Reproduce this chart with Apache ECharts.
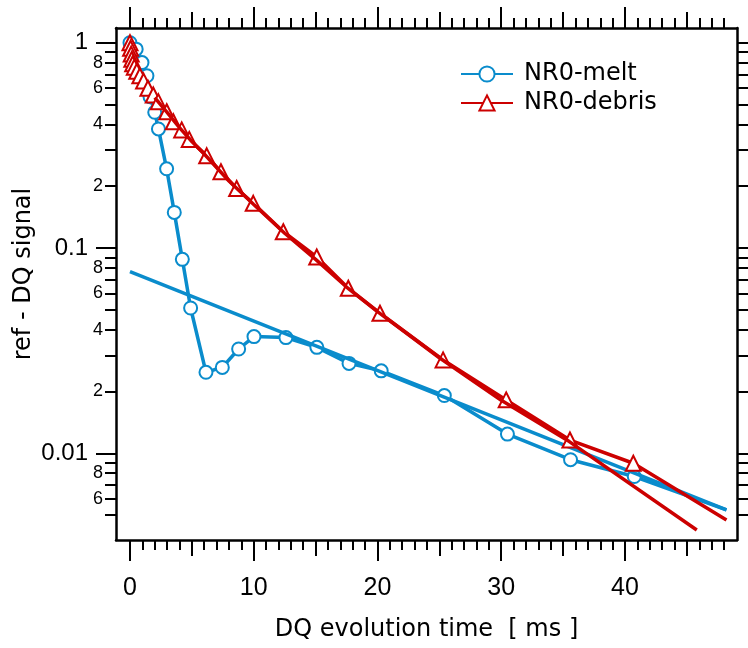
<!DOCTYPE html>
<html>
<head>
<meta charset="utf-8">
<script src="https://cdn.jsdelivr.net/npm/echarts@6/dist/echarts.min.js"></script>
<style>
  html, body { margin: 0; padding: 0; background: #fff; }
  #chart { width: 748px; height: 648px; }
</style>
</head>
<body>
<div id="chart"></div>
<script>
// melt data, [time ms, ref - DQ]
let meltData = [
  [0, 1.0], [0.5, 0.93], [0.97, 0.8], [1.37, 0.69], [1.62, 0.545],
  [2.0, 0.458], [2.3, 0.38], [2.96, 0.243], [3.58, 0.149], [4.23, 0.088],
  [4.9, 0.051], [6.14, 0.0248], [7.46, 0.0262], [8.78, 0.0322], [10.02, 0.037],
  [12.6, 0.0366], [15.1, 0.0328], [17.7, 0.0274], [20.3, 0.0252], [25.4, 0.0191],
  [30.5, 0.0124], [35.6, 0.0093], [40.75, 0.0077], [48.2, 0.0053],
];
// debris data
let debrisData = [
  [0, 1.0], [0.05, 0.94], [0.1, 0.88], [0.15, 0.83], [0.22, 0.79],
  [0.35, 0.76], [0.55, 0.725], [0.8, 0.69], [1.1, 0.65], [1.45, 0.6],
  [1.88, 0.556], [2.29, 0.516], [2.97, 0.461], [3.5, 0.412], [4.18, 0.376],
  [4.79, 0.338], [6.2, 0.281], [7.35, 0.235], [8.62, 0.195], [9.96, 0.165],
  [12.39, 0.12], [15.09, 0.0904], [17.64, 0.0636], [20.2, 0.0481], [25.3, 0.0285],
  [30.4, 0.0182], [35.55, 0.0116], [40.67, 0.00894], [48.2, 0.00473],
];
// fitted lines
let meltFit = [[0, 0.0767], [48.2, 0.0053]];
let debrisFit = [
  [2, 0.54], [3, 0.458], [4, 0.386], [5, 0.33], [6, 0.287], [8, 0.212],
  [10, 0.163], [12.5, 0.118], [15, 0.088], [17.5, 0.0645], [20, 0.049],
  [25, 0.0292], [30, 0.0181], [35.5, 0.0114], [45.8, 0.00423],
];

// tick values
let xMajor = [0, 10, 20, 30, 40];
let xMid = [5, 15, 25, 35, 45];
let xMinor = [1, 2, 3, 4, 6, 7, 8, 9, 11, 12, 13, 14, 16, 17, 18, 19, 21, 22, 23, 24,
  26, 27, 28, 29, 31, 32, 33, 34, 36, 37, 38, 39, 41, 42, 43, 44, 46, 47, 48];
let yMajor = [0.01, 0.1, 1];
let yMinor = [0.005, 0.006, 0.007, 0.008, 0.009, 0.02, 0.03, 0.04, 0.05, 0.06, 0.07, 0.08, 0.09,
  0.2, 0.3, 0.4, 0.5, 0.6, 0.7, 0.8, 0.9];
let yMinorLabels = [0.006, 0.008, 0.02, 0.04, 0.06, 0.08, 0.2, 0.4, 0.6, 0.8];

const FONT = "Liberation Sans";
const NAME_FONT = "DejaVu Sans";
const BLUE = "#0a8ccc";
const RED = "#cc0000";
const X_MIN = -1.13, X_MAX = 49.05;
const Y_MIN = 0.00378, Y_MAX = 1.179;

// last point of each data set has no marker
function lastNoSymbol(arr) {
  return arr.map((p, i) => (i === arr.length - 1 ? { value: p, symbol: "none" } : p));
}

function xAxisOf(pos, ticks, len, extra) {
  return Object.assign({
    type: "value",
    position: pos,
    min: X_MIN,
    max: X_MAX,
    splitLine: { show: false },
    axisLine: { show: false, onZero: false },
    axisTick: { show: true, customValues: ticks, length: len, lineStyle: { color: "#000", width: 2 } },
    axisLabel: { show: false },
  }, extra || {});
}

function yAxisOf(pos, ticks, len, extra) {
  return Object.assign({
    type: "log",
    position: pos,
    min: Y_MIN,
    max: Y_MAX,
    splitLine: { show: false },
    minorTick: { show: false },
    axisLine: { show: false, onZero: false },
    axisTick: { show: true, customValues: ticks, length: len, lineStyle: { color: "#000", width: 2 } },
    axisLabel: { show: false },
  }, extra || {});
}

let chart = echarts.init(document.getElementById("chart"), null, { renderer: "canvas" });

let option = {
  animation: false,
  backgroundColor: "#fff",
  textStyle: { fontFamily: FONT },
  grid: { left: 116, right: 11, top: 28, bottom: 108, containLabel: false, outerBoundsMode: "none" },
  legend: {
    data: ["NR0-melt", "NR0-debris"],
    orient: "vertical",
    left: 455,
    top: 57,
    itemWidth: 52,
    itemHeight: 19,
    itemGap: 5,
    textStyle: { fontSize: 24, color: "#000", fontFamily: NAME_FONT, lineHeight: 24, padding: [0, 0, 0, 6] },
  },
  xAxis: [
    xAxisOf("bottom", xMajor, 21, {
      axisLine: { show: true, onZero: false, lineStyle: { color: "#000", width: 2.5 } },
      axisLabel: {
        show: true, customValues: xMajor, margin: 36, fontSize: 25, color: "#000", fontFamily: FONT,
      },
      name: "DQ evolution time  [ ms ]",
      nameLocation: "middle",
      nameGap: 78,
      nameMoveOverlap: false,
      nameTextStyle: { fontSize: 24, color: "#000", fontFamily: NAME_FONT },
    }),
    xAxisOf("bottom", xMid, 16),
    xAxisOf("bottom", xMinor, 10),
    xAxisOf("top", xMajor, 21, {
      axisLine: { show: true, onZero: false, lineStyle: { color: "#000", width: 2.5 } },
    }),
    xAxisOf("top", xMid, 16),
    xAxisOf("top", xMinor, 10),
  ],
  yAxis: [
    yAxisOf("left", yMajor, 20, {
      axisLine: { show: true, onZero: false, lineStyle: { color: "#000", width: 2.5 } },
      axisLabel: {
        show: true, customValues: yMajor, margin: 28, fontSize: 24, color: "#000", fontFamily: FONT,
        formatter: (v) => String(+Number(v).toPrecision(3)),
      },
      name: "ref - DQ signal",
      nameLocation: "middle",
      nameRotate: 90,
      nameGap: 80,
      nameMoveOverlap: false,
      nameTextStyle: { fontSize: 24, color: "#000", fontFamily: NAME_FONT, padding: [0, 0, 0, 20] },
    }),
    yAxisOf("left", yMinor, 11, {
      axisLabel: {
        show: true, customValues: yMinorLabels, margin: 13, fontSize: 18, color: "#000", fontFamily: FONT,
        formatter: (v) => String(Math.round(v / Math.pow(10, Math.floor(Math.log10(v) + 1e-9)))),
      },
    }),
    yAxisOf("right", yMajor, 20, {
      axisLine: { show: true, onZero: false, lineStyle: { color: "#000", width: 2.5 } },
    }),
    yAxisOf("right", yMinor, 11),
  ],
  series: [
    {
      name: "NR0-melt",
      type: "line",
      data: lastNoSymbol(meltData),
      symbol: "emptyCircle",
      symbolSize: 13,
      color: BLUE,
      itemStyle: { color: BLUE, borderWidth: 3 },
      lineStyle: { color: BLUE, width: 3.5 },
      z: 2,
    },
    {
      name: "melt-fit",
      type: "line",
      data: meltFit,
      symbol: "none",
      lineStyle: { color: BLUE, width: 3.5 },
      z: 3,
    },
    {
      name: "NR0-debris",
      type: "line",
      data: lastNoSymbol(debrisData),
      symbol: "emptyTriangle",
      symbolSize: 15,
      color: RED,
      itemStyle: { color: RED, borderWidth: 3 },
      lineStyle: { color: RED, width: 3.5 },
      z: 4,
    },
    {
      name: "debris-fit",
      type: "line",
      data: debrisFit,
      symbol: "none",
      lineStyle: { color: RED, width: 3.5 },
      z: 5,
    },
  ],
};

chart.setOption(option);
</script>
</body>
</html>
